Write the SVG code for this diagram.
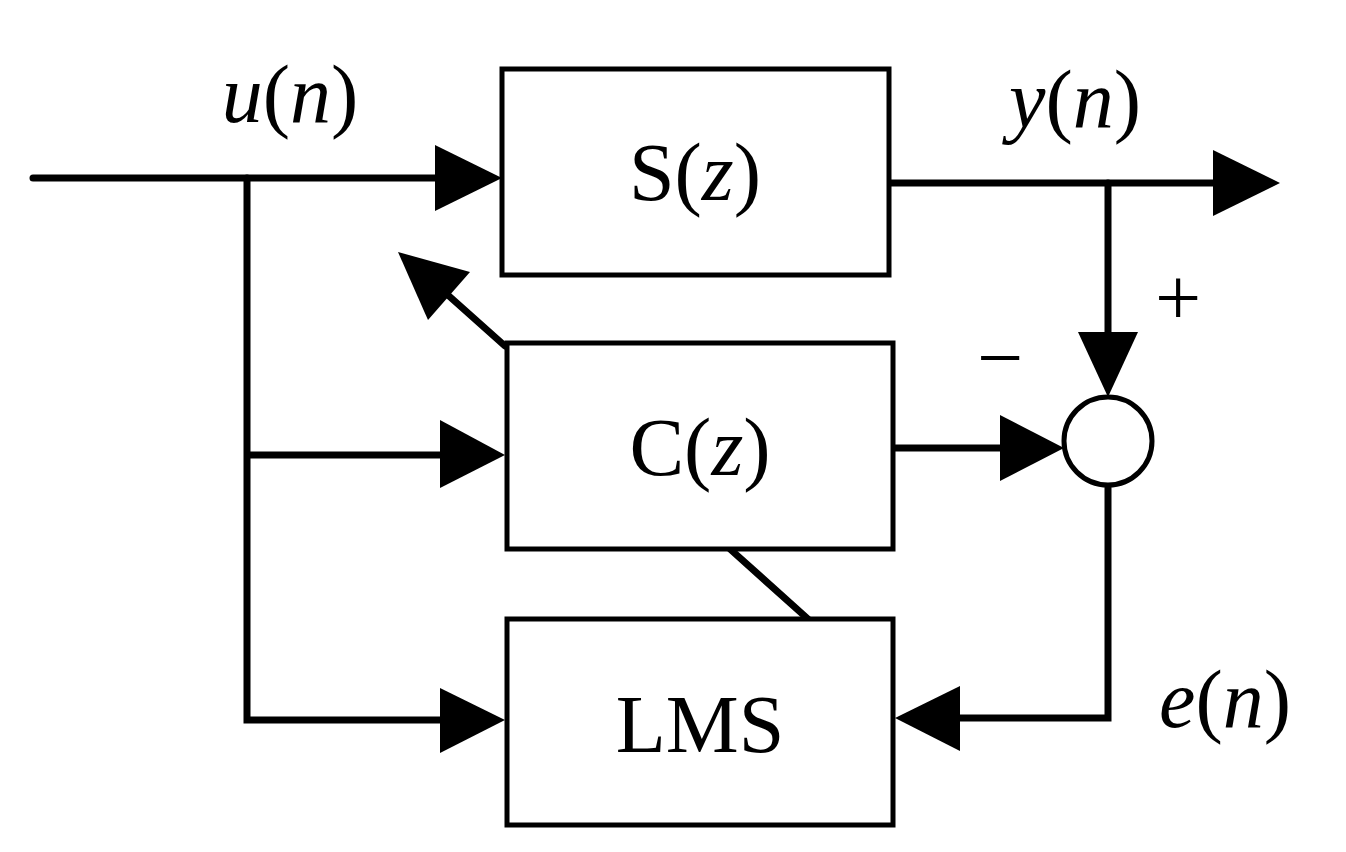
<svg xmlns="http://www.w3.org/2000/svg" width="1346" height="852" viewBox="0 0 1346 852">
<style>
.box{fill:#fff;stroke:#000;stroke-width:5}
.ln{stroke:#000;stroke-width:7;fill:none;stroke-linecap:round}
.ah{fill:#000}
text{font-family:"Liberation Serif",serif;font-size:82px;fill:#000}
.it{font-style:italic}
</style>
<rect width="1346" height="852" fill="#fff"/>
<g id="connectors">
<path class="ln" d="M33,178 H440"/>
<polygon class="ah" points="435,145 502,178 435,211"/>
<path class="ln" d="M889,183 H1215"/>
<polygon class="ah" points="1213,150 1280,183 1213,216"/>
<path class="ln" d="M1108,183 V335"/>
<polygon class="ah" points="1078,332 1138,332 1108,397"/>
<path class="ln" d="M247,178 V720 H445 M247,455 H445"/>
<polygon class="ah" points="440,420 505,455 440,488"/>
<polygon class="ah" points="440,688 505,720 440,753"/>
<path class="ln" d="M893,448 H1005"/>
<polygon class="ah" points="1000,415 1064,448 1000,481"/>
<path class="ln" d="M1108,485 V718 H955"/>
<polygon class="ah" points="960,686 895,718 960,751"/>
<path class="ln" d="M505,346 L440,288"/>
<polygon class="ah" points="398,252 470,272 428,320"/>
<path class="ln" d="M730,549 L808,619"/>
</g>
<g id="S"><rect class="box" x="502" y="69" width="387" height="206"/><text x="695" y="200" text-anchor="middle"><tspan>S(</tspan><tspan class="it">z</tspan><tspan>)</tspan></text></g>
<g id="C"><rect class="box" x="507" y="343" width="386" height="206"/><text x="700" y="475" text-anchor="middle"><tspan>C(</tspan><tspan class="it">z</tspan><tspan>)</tspan></text></g>
<g id="LMS"><rect class="box" x="507" y="619" width="386" height="206"/><text x="700" y="752" text-anchor="middle">LMS</text></g>
<g id="sum"><circle cx="1108" cy="441" r="44" fill="#fff" stroke="#000" stroke-width="5"/></g>
<g id="labels">
<text x="290" y="122" text-anchor="middle"><tspan class="it">u</tspan>(<tspan class="it">n</tspan>)</text>
<text x="1075" y="127" text-anchor="middle"><tspan class="it">y</tspan>(<tspan class="it">n</tspan>)</text>
<text x="1225" y="727" text-anchor="middle"><tspan class="it">e</tspan>(<tspan class="it">n</tspan>)</text>
<text x="1178" y="325" text-anchor="middle" font-size="70">+</text>
<text x="1000" y="385" text-anchor="middle" font-size="70">−</text>
</g>
</svg>
